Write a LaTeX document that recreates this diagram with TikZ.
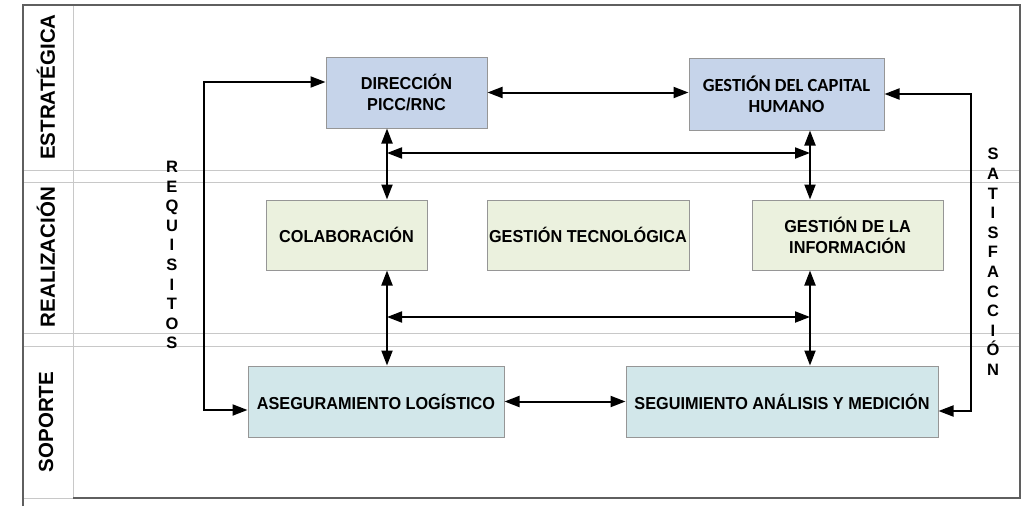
\documentclass[tikz,border=0pt]{standalone}
\usepackage{fontspec}
\setmainfont{Liberation Sans}
\newfontfamily\carlitofont{Carlito}
\newfontfamily\boxfont[FakeStretch=0.94]{Liberation Sans}
\usetikzlibrary{arrows.meta,positioning}
\definecolor{bluefill}{RGB}{198,212,234}
\definecolor{greenfill}{RGB}{235,241,222}
\definecolor{tealfill}{RGB}{210,231,234}
\definecolor{boxline}{RGB}{150,150,150}
\definecolor{gridline}{RGB}{200,200,200}
\definecolor{frameline}{RGB}{95,95,95}
\tikzset{
  box/.style={draw=boxline,line width=1pt,inner sep=0pt,align=center,
    font=\boxfont\bfseries\fontsize{17.3}{21}\selectfont},
  bluebox/.style={box,fill=bluefill},
  greenbox/.style={box,fill=greenfill},
  tealbox/.style={box,fill=tealfill},
  lane/.style={rotate=90,font=\bfseries\fontsize{20.5}{24}\selectfont},
  vert/.style={align=center,font=\bfseries\fontsize{16.5}{19.6}\selectfont,inner sep=0pt},
  dbl/.style={line width=2pt,{Triangle[length=15pt,width=11pt]}-{Triangle[length=15pt,width=11pt]}}
}
\begin{document}
\begin{tikzpicture}[x=1pt,y=-1pt]
\useasboundingbox (0,0) rectangle (1022,506);
\fill[white] (0,0) rectangle (1022,506);
% grid
\draw[gridline,line width=1pt] (23,170) -- (1020,170);
\draw[gridline,line width=1pt] (23,182) -- (1020,182);
\draw[gridline,line width=1pt] (23,333) -- (1020,333);
\draw[gridline,line width=1pt] (23,346) -- (1020,346);
\draw[gridline,line width=1pt] (73,5) -- (73,498);
\draw[gridline,line width=1pt] (23,498) -- (73,498);
% frame
\draw[frameline,line width=1.3pt] (23,506) -- (23,5) -- (1020,5) -- (1020,498) -- (73,498);
% lane labels
\node[lane] (l1) at (46,87) {ESTRATÉGICA};
\node[lane] (l2) at (46,257) {REALIZACIÓN};
\node[lane] (l3) at (46,422) {SOPORTE};
% boxes
\node[bluebox,minimum width=161pt,minimum height=71pt] (dir) at (406.5,92.5) {DIRECCIÓN\\PICC/RNC};
\node[bluebox,minimum width=195pt,minimum height=72pt,font=\carlitofont\bfseries\fontsize{18.5}{21}\selectfont] (gch) at (786.5,94) {GESTIÓN DEL CAPITAL\\HUMANO};
\node[greenbox,minimum width=161pt,minimum height=70pt] (col) at (346.5,235) {COLABORACIÓN};
\node[greenbox,minimum width=202pt,minimum height=70pt] (gtec) at (588,235) {GESTIÓN TECNOLÓGICA};
\node[greenbox,minimum width=191pt,minimum height=70pt] (ginf) at (847.5,235) {GESTIÓN DE LA\\INFORMACIÓN};
\node[tealbox,minimum width=256pt,minimum height=71pt] (aseg) at (376,401.5) {ASEGURAMIENTO LOGÍSTICO};
\node[tealbox,minimum width=312pt,minimum height=71pt] (seg) at (782,401.5) {SEGUIMIENTO ANÁLISIS Y MEDICIÓN};
% vertical words
\node[vert] (req) at (172,255) {R\\E\\Q\\U\\I\\S\\I\\T\\O\\S};
\node[vert] (sat) at (993,262) {S\\A\\T\\I\\S\\F\\A\\C\\C\\I\\Ó\\N};
% connector helper coordinates
\coordinate (r1) at (204,82);
\coordinate (r2) at (204,410);
\coordinate (s1) at (971,94);
\coordinate (s2) at (971,411);
\coordinate (xl) at (387,0);
\coordinate (xr) at (810,0);
\coordinate (h1) at (0,153);
\coordinate (h2) at (0,317);
% connectors
\draw[dbl] (dir.west |- r1) -- (r1) -- (r2) -- (aseg.west |- r2);
\draw[dbl] (gch.east |- s1) -- (s1) -- (s2) -- (seg.east |- s2);
\draw[dbl] (dir.east) -- (gch.west |- dir.east);
\draw[dbl] (xl |- dir.south) -- (xl |- col.north);
\draw[dbl] (xr |- gch.south) -- (xr |- ginf.north);
\draw[dbl] (xl |- h1) -- (xr |- h1);
\draw[dbl] (xl |- col.south) -- (xl |- aseg.north);
\draw[dbl] (xr |- ginf.south) -- (xr |- seg.north);
\draw[dbl] (xl |- h2) -- (xr |- h2);
\draw[dbl] (aseg.east) -- (seg.west);
\end{tikzpicture}
\end{document}
